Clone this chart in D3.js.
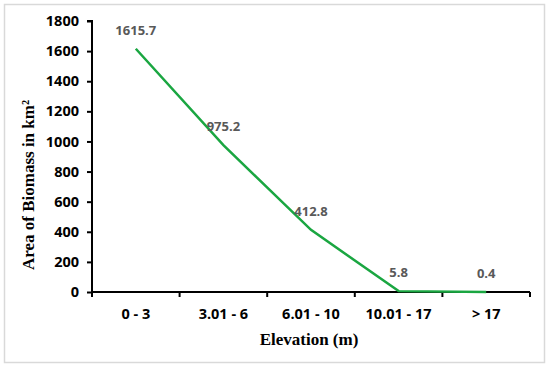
<!DOCTYPE html>
<html><head><meta charset="utf-8">
<script src="https://cdn.jsdelivr.net/npm/d3@7"></script>
<style>body{margin:0;background:#fff;} svg{display:block;}</style>
</head><body>
<svg id="c" width="550" height="368"></svg>
<script>
const categories = ["0 - 3", "3.01 - 6", "6.01 - 10", "10.01 - 17", "> 17"];
const values = [1615.7, 975.2, 412.8, 5.8, 0.4];
const labels = ["1615.7", "975.2", "412.8", "5.8", "0.4"];
const yTicks = [0, 200, 400, 600, 800, 1000, 1200, 1400, 1600, 1800];

const svg = d3.select("#c");
svg.append("rect").attr("x", 4.5).attr("y", 4.5).attr("width", 540).attr("height", 358)
  .attr("fill", "#fff").attr("stroke", "#d9d9d9").attr("stroke-width", 1.5);

const L = 92, R = 530, T = 21, B = 292;
const x = d3.scaleBand().domain(categories).range([L, R]);
const y = d3.scaleLinear().domain([0, 1800]).range([B, T]);

const yAxis = svg.append("g").attr("transform", `translate(${L},0)`)
  .call(d3.axisLeft(y).tickValues(yTicks).tickSize(5).tickPadding(8).tickFormat(d3.format("d")));
yAxis.select(".domain").attr("d", `M-5,${T}H0V${B}`);
const xAxis = svg.append("g").attr("transform", `translate(0,${B})`)
  .call(d3.axisBottom(x).tickSize(0).tickPadding(17));
const bounds = categories.map(c => x(c)).concat([R]);
xAxis.selectAll(".bt").data(bounds).enter().append("line")
  .attr("x1", d => d).attr("x2", d => d).attr("y1", 0).attr("y2", 5)
  .attr("stroke", "#000").attr("stroke-width", 2);
xAxis.select(".domain").attr("d", `M${L},0H${R}`);
[yAxis, xAxis].forEach(g => {
  g.selectAll(".domain").attr("stroke", "#000").attr("stroke-width", 2);
  g.selectAll(".tick line").attr("stroke", "#000").attr("stroke-width", 2);
  g.selectAll(".tick text").attr("fill", "#000")
    .style("font-family", "'Open Sans', 'Liberation Sans', sans-serif")
    .style("font-weight", "bold").style("font-size", "14.5px");
});

const line = d3.line().x((d, i) => x(categories[i]) + x.bandwidth() / 2).y(d => y(d));
svg.append("path").datum(values).attr("d", line).attr("fill", "none")
  .attr("stroke", "#1aa641").attr("stroke-width", 2.5);

svg.selectAll(".lbl").data(values).enter().append("text")
  .attr("x", (d, i) => x(categories[i]) + x.bandwidth() / 2)
  .attr("y", d => y(d) - 14)
  .attr("text-anchor", "middle")
  .attr("fill", "#595959")
  .style("font-family", "'Open Sans', 'Liberation Sans', sans-serif")
  .style("font-weight", "bold").style("font-size", "13px")
  .text((d, i) => labels[i]);

svg.append("text").attr("x", 309).attr("y", 345).attr("text-anchor", "middle")
  .style("font-family", "'Liberation Serif', 'Times New Roman', serif")
  .style("font-weight", "bold").style("font-size", "17px").text("Elevation (m)");
svg.append("text").attr("transform", "translate(34,185) rotate(-90)").attr("text-anchor", "middle")
  .style("font-family", "'Liberation Serif', 'Times New Roman', serif")
  .style("font-weight", "bold").style("font-size", "17px").text("Area of Biomass in km²");
</script>
</body></html>
